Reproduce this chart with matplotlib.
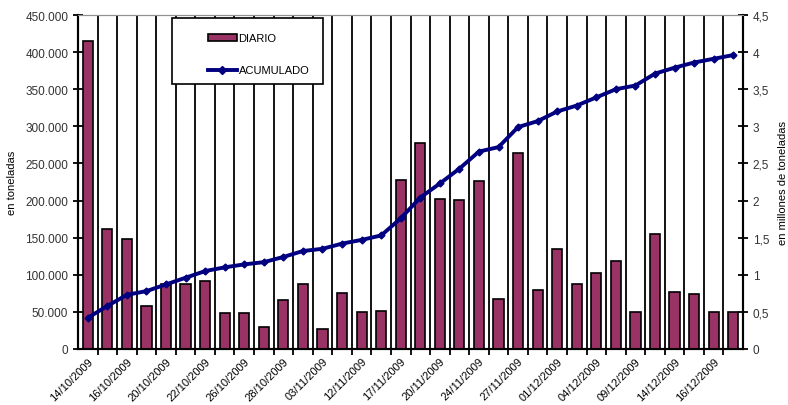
import matplotlib.pyplot as plt
from matplotlib.ticker import FuncFormatter, FixedLocator
from matplotlib.lines import Line2D
from matplotlib.patches import Patch, Rectangle

plt.rcParams['font.family'] = ['Liberation Sans', 'DejaVu Sans']

# daily tonnage per shipment day (34 days)
diario = [415000, 162000, 148000, 58000, 88000, 87000, 91000, 49000, 49000, 29000,
          66000, 87000, 27000, 75000, 50000, 51000, 228000, 278000, 202000, 201000,
          226000, 68000, 264000, 80000, 135000, 88000, 103000, 119000, 50000, 155000,
          77000, 74000, 50000, 50000]
# accumulated, millions of tonnes
acumulado = [0.42, 0.58, 0.73, 0.78, 0.87, 0.96, 1.05, 1.10, 1.14, 1.17,
             1.24, 1.32, 1.35, 1.42, 1.47, 1.53, 1.76, 2.04, 2.23, 2.43,
             2.66, 2.72, 2.99, 3.07, 3.20, 3.28, 3.39, 3.50, 3.55, 3.71,
             3.79, 3.86, 3.91, 3.96]
# labels shown on every other category
fechas = ['14/10/2009', '16/10/2009', '20/10/2009', '22/10/2009', '26/10/2009',
          '28/10/2009', '03/11/2009', '12/11/2009', '17/11/2009', '20/11/2009',
          '24/11/2009', '27/11/2009', '01/12/2009', '04/12/2009', '09/12/2009',
          '14/12/2009', '16/12/2009']

n = len(diario)
x = list(range(n))

fig = plt.figure(figsize=(7.88, 4.06), dpi=100)
ax = fig.add_axes([78/788, 56/406, 665/788, 334/406])
ax2 = ax.twinx()

ax.bar(x, diario, width=0.52, color='#993366', edgecolor='black', linewidth=1.2, zorder=3)
ax2.plot(x, acumulado, color='#000080', linewidth=2.8, marker='D', markersize=3.5, zorder=4)

ax.set_xlim(-0.5, n - 0.5)
ax.set_ylim(0, 450000)
ax2.set_ylim(0, 4.5)

ax.set_yticks(range(0, 450001, 50000))
ax.yaxis.set_major_formatter(FuncFormatter(lambda v, p: f'{int(v):,}'.replace(',', '.')))
ax2.set_yticks([i * 0.5 for i in range(10)])
ax2.yaxis.set_major_formatter(FuncFormatter(lambda v, p: f'{v:g}'.replace('.', ',')))

ax.set_xticks(x[::2])
ax.set_xticklabels(fechas, rotation=45, ha='right', rotation_mode='anchor')
ax.xaxis.set_minor_locator(FixedLocator([i + 0.5 for i in range(n - 1)]))
ax.tick_params(axis='x', which='major', length=0, pad=5, labelsize=8)
ax.tick_params(axis='x', which='minor', length=4, width=1.3, direction='out')
ax.grid(True, axis='x', which='minor', color='black', linewidth=1.3, zorder=1)
ax.set_axisbelow(True)

ax.tick_params(axis='y', direction='inout', length=7, width=1.3, labelsize=8.5, labelcolor='#333333')
ax2.tick_params(axis='y', direction='inout', length=7, width=1.3, labelsize=8.5, labelcolor='#333333')

for a in (ax, ax2):
    a.spines['top'].set_color('#909090')
    a.spines['left'].set_linewidth(1.5)
    a.spines['bottom'].set_linewidth(1.5)
    a.spines['right'].set_linewidth(1.5)

ax.set_ylabel('en toneladas', fontsize=8, labelpad=6)
ax2.set_ylabel('en millones de toneladas', fontsize=8, rotation=90, labelpad=6)

# legend box
box = Rectangle((172/788, (406-85)/406), 151/788, 66/406, transform=fig.transFigure,
                facecolor='white', edgecolor='black', linewidth=1.2, zorder=10)
fig.patches.append(box)
handles = [Patch(facecolor='#993366', edgecolor='black', linewidth=1.2),
           Line2D([0], [0], color='#000080', linewidth=2.8, marker='D', markersize=4.5)]
leg = fig.legend(handles, ['DIARIO', 'ACUMULADO'], loc='upper left',
                 bbox_to_anchor=(198/788, (406-24)/406), frameon=False, fontsize=8,
                 handlelength=2.6, handleheight=0.6, handletextpad=0.15, labelspacing=2.0)
leg.set_zorder(11)

fig.savefig('out.png', dpi=100)
